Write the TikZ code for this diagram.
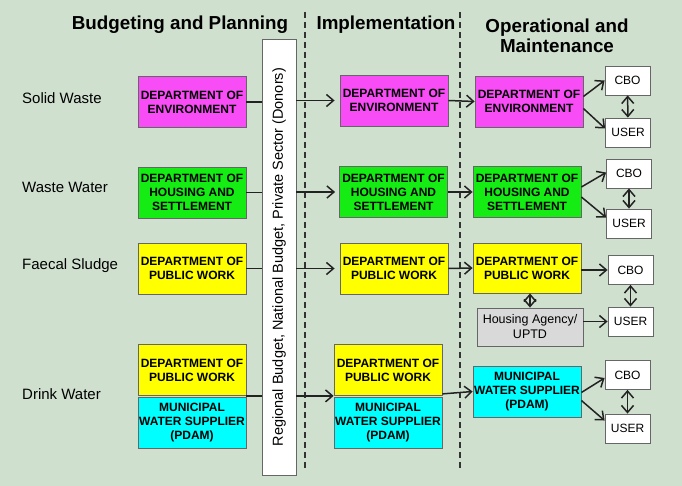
\documentclass[tikz,border=0pt]{standalone}
\usepackage{fontspec}
\setmainfont{Liberation Sans}
\usepackage{xcolor}
\usetikzlibrary{arrows.meta,calc}

\definecolor{bgcol}{HTML}{D0E0CF}
\definecolor{magbox}{HTML}{F84CF6}
\definecolor{grnbox}{HTML}{14EC14}
\definecolor{ylwbox}{HTML}{FFFF00}
\definecolor{cyabox}{HTML}{00FFFF}
\definecolor{grybox}{HTML}{D9D9D9}
\definecolor{lncol}{HTML}{222222}

\begin{document}
\begin{tikzpicture}[x=1pt,y=-1pt,
    >={Straight Barb[length=7pt,width=12pt]},
    dept/.style={draw=black!60, line width=0.8pt, minimum width=108pt, minimum height=51pt,
        inner sep=0pt, align=center, font=\fontsize{12}{14}\selectfont\bfseries},
    small/.style={draw=black!60, line width=0.8pt, fill=white, minimum width=45pt, minimum height=29pt,
        inner sep=0pt, font=\fontsize{12}{14}\selectfont},
    head/.style={align=center, font=\fontsize{18.8}{20.5}\selectfont\bfseries},
    rowlbl/.style={anchor=west, inner sep=0pt, font=\fontsize{15}{17}\selectfont},
    link/.style={draw=lncol, line width=1.5pt},
    sep/.style={draw=black!80, line width=1.3pt, dash pattern=on 6pt off 4pt}]

    \fill[bgcol] (0,0) rectangle (682,486);

    \node[head] (hBud) at (180,25) {Budgeting and Planning};
    \node[head] (hImp) at (386,25) {Implementation};
    \node[head] (hOpe) at (557,36) {Operational and\\Maintenance};

    \draw[sep] (305,12) -- (305,468);
    \draw[sep] (460,12) -- (460,468);

    \node[rowlbl] (lSol) at (22,98) {Solid Waste};
    \node[rowlbl] (lWas) at (22,187) {Waste Water};
    \node[rowlbl] (lFae) at (22,266) {Faecal Sludge};
    \node[rowlbl] (lDri) at (22,394) {Drink Water};

    \node[draw=black!60, line width=0.8pt, fill=white, rotate=90, minimum width=436pt, minimum height=34pt,
        inner sep=0pt, font=\fontsize{14.5}{16}\selectfont] (budget) at (279,257)
        {Regional Budget, National Budget, Private Sector (Donors)};

    % budgeting and planning
    \node[dept, fill=magbox] (envL) at (192,102) {DEPARTMENT OF\\ENVIRONMENT};
    \node[dept, fill=grnbox] (hsgL) at (192,192.5) {DEPARTMENT OF\\HOUSING AND\\SETTLEMENT};
    \node[dept, fill=ylwbox] (pwL) at (192,268.5) {DEPARTMENT OF\\PUBLIC WORK};
    \node[dept, fill=ylwbox] (dpwL) at (192,370) {DEPARTMENT OF\\PUBLIC WORK};
    \node[dept, fill=cyabox] (dmwL) at (192,422.5) {MUNICIPAL\\WATER SUPPLIER\\(PDAM)};

    % implementation
    \node[dept, fill=magbox] (envM) at (394,100.5) {DEPARTMENT OF\\ENVIRONMENT};
    \node[dept, fill=grnbox] (hsgM) at (393.5,192) {DEPARTMENT OF\\HOUSING AND\\SETTLEMENT};
    \node[dept, fill=ylwbox] (pwM) at (394,268.5) {DEPARTMENT OF\\PUBLIC WORK};
    \node[dept, fill=ylwbox] (dpwM) at (388,370) {DEPARTMENT OF\\PUBLIC WORK};
    \node[dept, fill=cyabox] (dmwM) at (388,422.5) {MUNICIPAL\\WATER SUPPLIER\\(PDAM)};

    % operational and maintenance
    \node[dept, fill=magbox] (envR) at (529,101.5) {DEPARTMENT OF\\ENVIRONMENT};
    \node[dept, fill=grnbox] (hsgR) at (527,192) {DEPARTMENT OF\\HOUSING AND\\SETTLEMENT};
    \node[dept, fill=ylwbox, minimum height=50pt] (pwR) at (527,268) {DEPARTMENT OF\\PUBLIC WORK};
    \node[dept, fill=grybox, minimum width=106pt, minimum height=38pt, font=\fontsize{12.5}{15}\selectfont]
        (hagR) at (530,327) {Housing Agency/\\UPTD};
    \node[dept, fill=cyabox] (dmwR) at (527,391.5) {MUNICIPAL\\WATER SUPPLIER\\(PDAM)};

    \node[small] (cboA) at (627.5,80.5) {CBO};
    \node[small] (usrA) at (628,132.5) {USER};
    \node[small] (cboB) at (629,173.5) {CBO};
    \node[small] (usrB) at (629,223.5) {USER};
    \node[small] (cboC) at (630.5,270) {CBO};
    \node[small] (usrC) at (630.5,321.5) {USER};
    \node[small] (cboD) at (627.5,375) {CBO};
    \node[small] (usrD) at (627.5,428.5) {USER};

    % into the budget box
    \draw[link] (envL.east) -- (envL -| budget.north);
    \draw[link] (hsgL.east) -- (hsgL -| budget.north);
    \draw[link] (pwL.east) -- (pwL -| budget.north);
    \draw[link] (dpwL.south east) -- (dpwL.south east -| budget.north);

    % out of the budget box
    \draw[link,->,shorten >=5pt] (budget.south |- envM) -- (envM.west);
    \draw[link,->,shorten >=4pt] (budget.south |- hsgM) -- (hsgM.west);
    \draw[link,->,shorten >=5pt] (budget.south |- pwM) -- (pwM.west);
    \draw[link,->] (budget.south |- dpwM.south west) -- (dpwM.south west);

    \draw[link,->] (envM.east) -- (envR.west);
    \draw[link,->] (hsgM.east) -- (hsgR.west);
    \draw[link,->] (pwM.east) -- (pwR.west);
    \draw[link,->] ([yshift=2pt]dpwM.south east) -- (dmwR.west);

    \draw[link,->] ([yshift=5pt]envR.east) -- (cboA.west);
    \draw[link,->] ([yshift=-7pt]envR.east) -- ([yshift=4pt]usrA.west);
    \draw[link,->] ([yshift=5pt]hsgR.east) -- ([yshift=1pt]cboB.west);
    \draw[link,->] ([yshift=-5pt]hsgR.east) -- ([yshift=6pt]usrB.west);
    \draw[link,->] (pwR.east |- cboC.west) -- (cboC.west);
    \draw[link,->] (hagR.east |- usrC.west) -- (usrC.west);
    \draw[link,->] ([yshift=-1pt]dmwR.east) -- ([yshift=-3pt]cboD.west);
    \draw[link,->] ([yshift=-9pt]dmwR.east) -- ([yshift=8pt]usrD.west);

    \draw[link,<->] (cboA) -- (usrA);
    \draw[link,<->] (cboB) -- (usrB);
    \draw[link,<->] (cboC) -- (usrC);
    \draw[link,<->] (cboD) -- (usrD);
    \draw[link,<->] (pwR.south -| hagR) -- (hagR.north);
\end{tikzpicture}
\end{document}
